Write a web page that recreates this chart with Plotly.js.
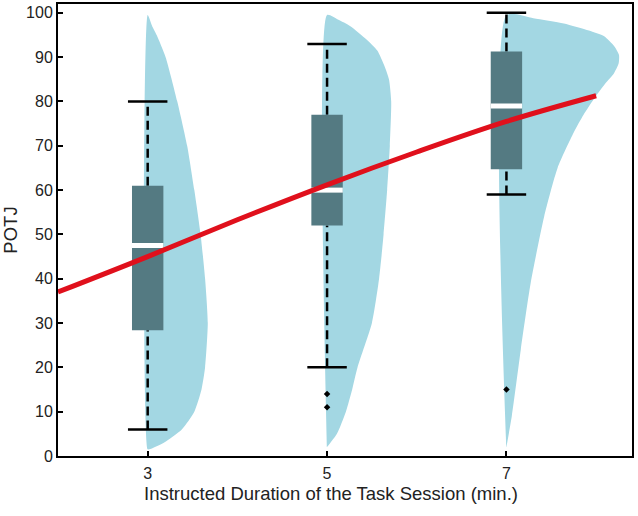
<!DOCTYPE html>
<html>
<head>
<meta charset="utf-8">
<script src="https://cdn.plot.ly/plotly-3.0.1.min.js"></script>
<style>
  html, body { margin: 0; padding: 0; background: #fff; }
  #plot { width: 638px; height: 516px; }
</style>
</head>
<body>
<div id="plot"></div>
<script>
// Daten
var groups = [3, 5, 7];
var q1 = [28.4, 52, 64.7];
var median = [47.5, 60, 79];
var q3 = [61, 77, 91.3];
var whiskerLow = [6, 20, 59];
var whiskerHigh = [80, 93, 100];
var outlierX = [5, 5, 7];
var outlierY = [14, 11, 15];

// Halbe Violinen: y-Stufen und Breite (in x-Einheiten)
var violinY3 = [99.5, 97, 95, 90, 80, 70, 60, 50, 40, 30, 20, 15, 10, 6, 3, 1.5];
var violinW3 = [0, 0.05, 0.1, 0.2, 0.33, 0.44, 0.52, 0.59, 0.64, 0.67, 0.64, 0.6, 0.52, 0.38, 0.18, 0.02];
var violinY5 = [99.5, 98.5, 97, 94, 91.5, 88, 85, 80, 70, 60, 50, 40, 30, 20, 15, 10, 5, 2];
var violinW5 = [0, 0.12, 0.26, 0.44, 0.56, 0.64, 0.69, 0.715, 0.7, 0.67, 0.63, 0.58, 0.5, 0.34, 0.28, 0.21, 0.11, 0];
var violinY7 = [99.5, 98.8, 97.6, 96, 94.7, 92.5, 90.5, 88.5, 86.4, 84, 81, 77, 73, 65, 54, 39, 24, 9, 2];
var violinW7 = [0, 0.3, 0.64, 0.92, 1.09, 1.2, 1.255, 1.25, 1.2, 1.1, 0.99, 0.86, 0.75, 0.57, 0.42, 0.27, 0.16, 0.06, 0];

// Trendkurve
var fitX = [2, 3, 4, 5, 6, 7, 8];
var fitY = [37, 45, 53.3, 61.2, 68.6, 75.5, 81.3];

var violinColor = '#a3d7e3';
var boxColor = '#547a82';

function violinTrace(center, ys, ws) {
    var xs = [], yy = [];
    for (var i = 0; i < ys.length; i++) {
        xs.push(center + ws[i]);
        yy.push(ys[i]);
    }
    xs.push(center);
    yy.push(ys[ys.length - 1]);
    xs.push(center);
    yy.push(ys[0]);
    return {
        x: xs, y: yy, type: 'scatter', mode: 'lines',
        fill: 'toself', fillcolor: violinColor,
        line: { color: violinColor, width: 0, shape: 'spline', smoothing: 0.6 },
        hoverinfo: 'skip', showlegend: false
    };
}

var traces = [];
traces.push(violinTrace(groups[0], violinY3, violinW3));
traces.push(violinTrace(groups[1], violinY5, violinW5));
traces.push(violinTrace(groups[2], violinY7, violinW7));

var wx = [], wy = [], cx = [], cy = [], mx = [], my = [], bx = [], by = [];
var capHalf = 0.22, boxHalf = 0.175;
for (var i = 0; i < groups.length; i++) {
    var g = groups[i];
    wx.push(g, g, null, g, g, null);
    wy.push(whiskerLow[i], q1[i], null, q3[i], whiskerHigh[i], null);
    cx.push(g - capHalf, g + capHalf, null, g - capHalf, g + capHalf, null);
    cy.push(whiskerLow[i], whiskerLow[i], null, whiskerHigh[i], whiskerHigh[i], null);
    bx.push(g - boxHalf, g + boxHalf, g + boxHalf, g - boxHalf, g - boxHalf, null);
    by.push(q1[i], q1[i], q3[i], q3[i], q1[i], null);
    mx.push(g - boxHalf, g + boxHalf, null);
    my.push(median[i], median[i], null);
}

traces.push({
    x: wx, y: wy, type: 'scatter', mode: 'lines',
    line: { color: '#000', width: 2.5, dash: '9px,5px' },
    hoverinfo: 'skip', showlegend: false
});
traces.push({
    x: cx, y: cy, type: 'scatter', mode: 'lines',
    line: { color: '#000', width: 2.5 },
    hoverinfo: 'skip', showlegend: false
});
traces.push({
    x: bx, y: by, type: 'scatter', mode: 'lines',
    fill: 'toself', fillcolor: boxColor,
    line: { color: boxColor, width: 0 },
    hoverinfo: 'skip', showlegend: false
});
traces.push({
    x: mx, y: my, type: 'scatter', mode: 'lines',
    line: { color: '#fff', width: 5 },
    hoverinfo: 'skip', showlegend: false
});
traces.push({
    x: outlierX, y: outlierY, type: 'scatter', mode: 'markers',
    marker: { color: '#000', size: 5, symbol: 'diamond' },
    hoverinfo: 'skip', showlegend: false
});
traces.push({
    x: fitX, y: fitY, type: 'scatter', mode: 'lines',
    line: { color: '#e0101c', width: 5, shape: 'spline' },
    hoverinfo: 'skip', showlegend: false
});

var layout = {
    width: 638, height: 516,
    margin: { l: 58, r: 6, t: 4, b: 60 },
    paper_bgcolor: '#fff', plot_bgcolor: '#fff',
    font: { family: 'Liberation Sans, Arial, sans-serif', size: 16, color: '#222' },
    showlegend: false,
    xaxis: {
        range: [2, 8.4],
        tickvals: [3, 5, 7],
        ticks: 'inside', ticklen: 5, tickwidth: 2, tickcolor: '#000',
        ticklabelstandoff: 2,
        showline: true, linecolor: '#000', linewidth: 2, mirror: true,
        showgrid: false, zeroline: false
    },
    yaxis: {
        range: [0, 102],
        tickvals: [0, 10, 20, 30, 40, 50, 60, 70, 80, 90, 100],
        ticks: 'inside', ticklen: 5, tickwidth: 2, tickcolor: '#000',
        showline: true, linecolor: '#000', linewidth: 2, mirror: true,
        showgrid: false, zeroline: false,
        title: { text: 'POTJ', font: { size: 18.5, color: '#222' }, standoff: 4 }
    },
    annotations: [{
        text: 'Instructed Duration of the Task Session (min.)',
        xref: 'paper', yref: 'paper', x: 0.476, y: -0.057,
        xanchor: 'center', yanchor: 'top', showarrow: false, borderpad: 0,
        font: { size: 18.5, color: '#222' }
    }]
};

Plotly.newPlot('plot', traces, layout, { staticPlot: true });
</script>
</body>
</html>
